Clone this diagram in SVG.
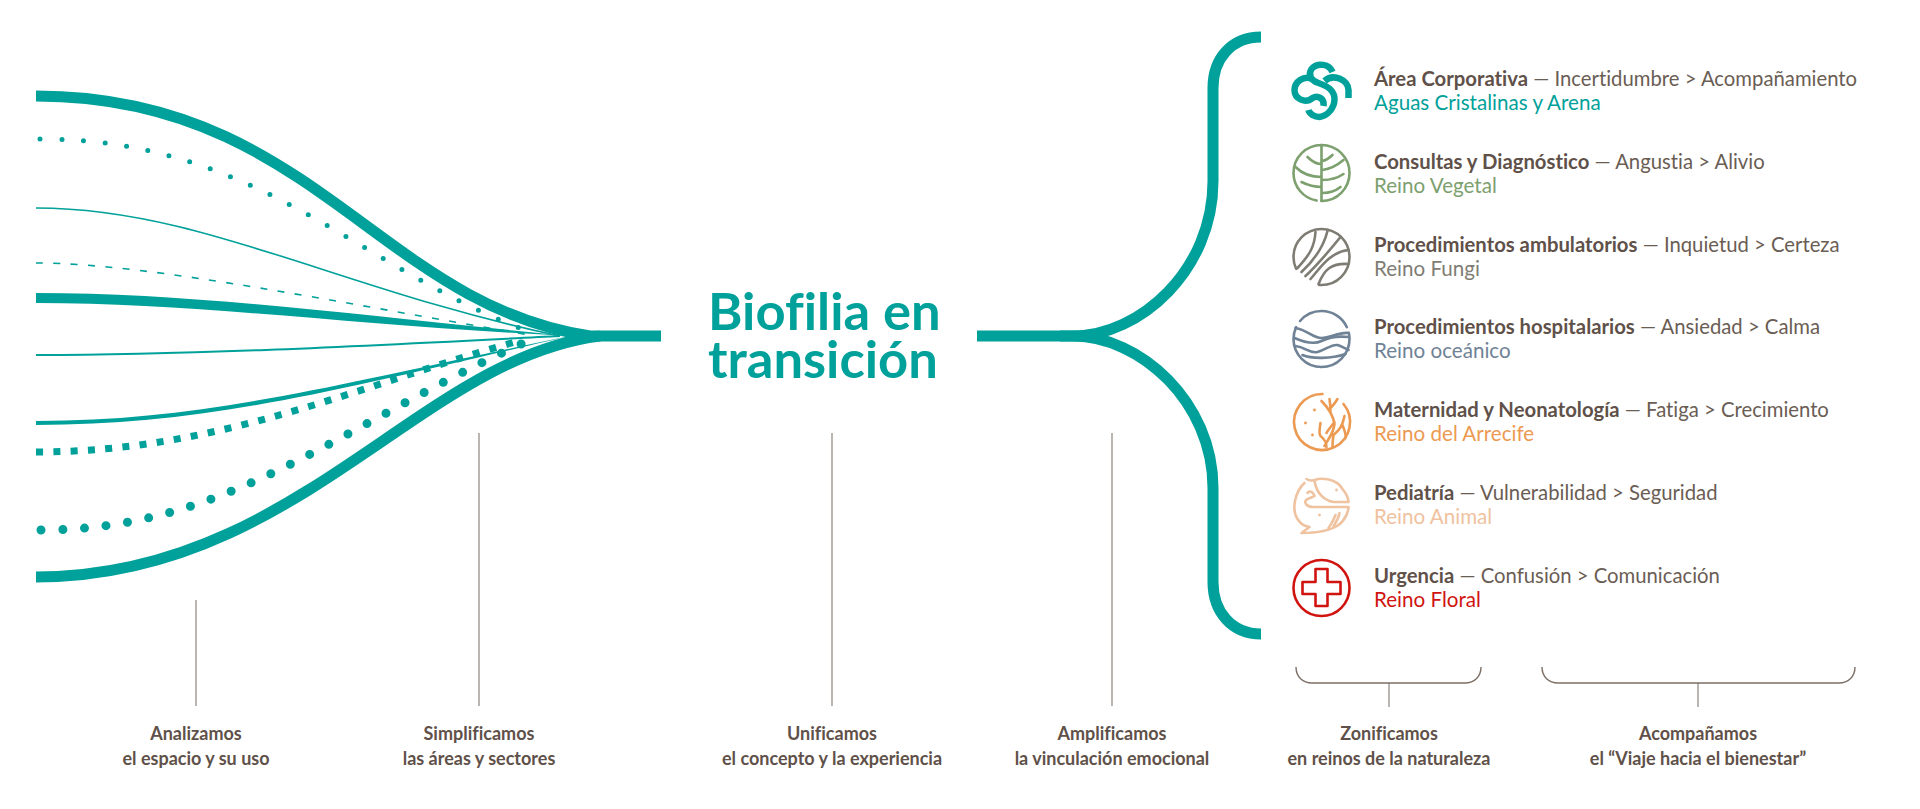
<svg xmlns="http://www.w3.org/2000/svg" width="1920" height="809" viewBox="0 0 1920 809">
<style>
text{font-family:"Lato","Liberation Sans",sans-serif;font-variant-ligatures:none}
.c{fill:none;stroke:#00a19a;stroke-linecap:butt}
.o{stroke-linecap:round}
.f{fill:#00a19a;stroke:none}
.r{fill:none;stroke:#8f857e;stroke-width:1.2}
.b{fill:none;stroke:#7c6f67;stroke-width:1.4}
.t{font-size:52.5px;font-weight:700;fill:#00a19a}
.h{font-size:20.3px;fill:#6a5d54}
.h .s{font-weight:700;fill:#5f5149}
.k{font-size:20.6px}
.l{font-size:18px;font-weight:700;fill:#5f5149;text-anchor:middle}
.i{fill:none;stroke-width:2.6;stroke-linecap:round;stroke-linejoin:round}
.d{stroke:none}
</style>
<rect width="1920" height="809" fill="#fff"/>
<g id="connectors">
<path class="c" stroke-width="11" d="M36 96C310 96 380 305 590 336L661 336"/>
<path class="c o" stroke-width="5" stroke-dasharray="0 21.7" d="M40 139C260 139 360 270 530 332"/>
<path class="c" stroke-width="1.6" d="M36 208C200 208 340 290 560 336"/>
<path class="c" stroke-width="1.6" stroke-dasharray="7 10.4" d="M36 263C150 263 350 305 530 335"/>
<path class="f" d="M36 293C200 293 360 316 570 336C360 326 200 303 36 303Z"/>
<path class="c" stroke-width="2" d="M36 355C200 355 380 345 560 336"/>
<path class="f" d="M36 421C210 421 340 383 570 336C345 388 210 425 36 425Z"/>
<path class="c" stroke-width="7" stroke-dasharray="7 10.3" d="M36 452C220 452 360 385 515 342"/>
<path class="c o" stroke-width="9" stroke-dasharray="0 21.7" d="M41 530C230 530 340 425 530 340"/>
<path class="c" stroke-width="11" d="M36 577C295 577 420 358 600 336"/>
<path class="c" stroke-width="11" d="M1261 37C1232 37 1213 58 1213 88L1213 181C1213 270 1140 336 1073 336L977 336"/>
<path class="c" stroke-width="11" d="M1261 634C1232 634 1213 612 1213 582L1213 488C1213 402 1140 336 1073 336L1060 336"/>
<path class="r" d="M196 600V706M479 433V706M832 433V706M1112 433V706M1389 683V707M1698 683V707"/>
<path class="b" d="M1296 667C1296 677 1303 683 1312 683H1465C1474 683 1481 677 1481 667"/>
<path class="b" d="M1542 667C1542 677 1549 683 1558 683H1839C1848 683 1855 677 1855 667"/>
</g>
<g id="title"><text class="t"><tspan x="708" y="330">Biofilia en</tspan><tspan x="708" y="378">transición</tspan></text></g>
<g id="n1"><g transform="translate(1321.5 90)" class="i" stroke="#00a19a" style="stroke-width:6.5;stroke-linecap:butt"><path d="M11 -18C8 -26 -4 -28 -10 -21C-14 -15 -10 -9 -3 -7C6 -4 13 0 13 9C13 18 6 26 -2 27C-7 27 -12 24 -13 20"/><path d="M-9 -11C-18 -15 -27 -8 -27 0C-27 9 -16 14 -9 8C-4 5 3 8 2 16"/><path d="M3 -9C12 -17 27 -10 27 0V8"/></g><text class="h" x="1374" y="86"><tspan class="s">Área Corporativa</tspan> — Incertidumbre &gt; Acompañamiento</text><text class="k" x="1374" y="110" fill="#00a19a">Aguas Cristalinas y Arena</text></g>
<g id="n2"><g transform="translate(1321.5 173)" class="i" stroke="#7da06f"><circle r="28" pathLength="360" stroke-dasharray="90 10 260"/><path d="M0 -28V28M-14 -16C-10 -12 -5 -9 0 -9M1 -12C5 -13 8 -15 11 -18M-26 -6C-19 1 -10 4 0 4M1 -3C9 -4 16 -8 22 -13M-20 9C-14 12 -7 14 0 14M1 7C9 7 16 5 22 1M1 20C8 20 14 18 19 14"/></g><text class="h" x="1374" y="169"><tspan class="s">Consultas y Diagnóstico</tspan> — Angustia &gt; Alivio</text><text class="k" x="1374" y="193" fill="#7da06f">Reino Vegetal</text></g>
<g id="n3"><g transform="translate(1321.5 257)" class="i" stroke="#7f7c74"><circle r="28" pathLength="360" stroke-dasharray="95 60 205"/><path d="M-24 11C-12 -2 -7 -10 -6 -25M-20 15C-6 2 2 -10 6 -26M-16 19C-4 8 6 -4 19 -20M-11 22C-2 12 8 -5 27 -7M-3 27C3 12 10 6 27 7"/></g><text class="h" x="1374" y="252"><tspan class="s">Procedimientos ambulatorios</tspan> — Inquietud &gt; Certeza</text><text class="k" x="1374" y="276" fill="#7f7c74">Reino Fungi</text></g>
<g id="n4"><g transform="translate(1321.5 339)" class="i" stroke="#6f8296"><circle r="28" pathLength="360" stroke-dasharray="205 15 115 12 13"/><path d="M-26 -11C-14 -9 -9 -1 0 -1C9 -1 17 -7 27 -6"/><path d="M-27 -1C-18 3 -8 6 0 2C8 -2 18 -3 27 -2"/><path d="M-26 7C-16 8 -12 15 -4 13C4 11 10 5 16 6C20 7 24 10 27 11"/><path d="M-19 16C-10 20 10 20 24 15"/></g><text class="h" x="1374" y="334"><tspan class="s">Procedimientos hospitalarios</tspan> — Ansiedad &gt; Calma</text><text class="k" x="1374" y="358" fill="#6f8296">Reino oceánico</text></g>
<g id="n5"><g transform="translate(1321.5 422)" class="i" stroke="#ec9a52"><path d="M1 -28A28 28 0 1 0 22 -18"/><path d="M0 -21C8 -13 12 -4 13 2C12 12 6 18 3 24M8 -23C9 -16 9 -13 9 -11M16 -23C13 -18 11 -16 10 -15M-1 1C-2 8 -3 12 -1 14C3 17 5 22 5 25M13 0C10 4 7 7 5 11M23 -6C21 4 18 8 12 13C11 18 11 22 11 25M21 3C23 8 25 13 24 16"/><circle class="d" cx="-7" cy="-12" r="1.4" fill="#ec9a52"/><circle class="d" cx="-16" cy="1" r="1.4" fill="#ec9a52"/><circle class="d" cx="-9" cy="13" r="1.4" fill="#ec9a52"/></g><text class="h" x="1374" y="417"><tspan class="s">Maternidad y Neonatología</tspan> — Fatiga &gt; Crecimiento</text><text class="k" x="1374" y="441" fill="#ec9a52">Reino del Arrecife</text></g>
<g id="n6"><g transform="translate(1321.5 505)" class="i" stroke="#efc2a0"><path d="M-7 -25C-2 -27 14 -28 21 -16C25 -11 27 -6 27 -3H12C0 -5 -6 -15 -7 -25C-10 -24 -12 -24 -15 -26"/><path d="M-17 -22C-27 -13 -30 5 -24 14C-20 20 -17 21 -12 22L-20 28C-3 28 8 26 17 20C25 14 27 5 27 2H-8C-14 2 -17 -1 -16 -4C-15 -7 -10 -7 -7 -9C-8 -13 -12 -15 -14 -12"/><path d="M14 10C12 16 9 20 7 23M18 8C17 14 14 18 12 21"/><circle class="d" cx="15" cy="-15" r="1.4" fill="#efc2a0"/><circle class="d" cx="-2" cy="10" r="1.4" fill="#efc2a0"/></g><text class="h" x="1374" y="500"><tspan class="s">Pediatría</tspan> — Vulnerabilidad &gt; Seguridad</text><text class="k" x="1374" y="524" fill="#efc2a0">Reino Animal</text></g>
<g id="n7"><g transform="translate(1321.5 588)" class="i" stroke="#d0140f"><circle r="28"/><path d="M-6 -19H6V-6H19V6H6V18H-6V6H-19V-6H-6Z"/></g><text class="h" x="1374" y="583"><tspan class="s">Urgencia</tspan> — Confusión &gt; Comunicación</text><text class="k" x="1374" y="607" fill="#d0140f">Reino Floral</text></g>
<g id="labels">
<text class="l" x="196" y="740">Analizamos</text><text class="l" x="196" y="765">el espacio y su uso</text>
<text class="l" x="479" y="740">Simplificamos</text><text class="l" x="479" y="765">las áreas y sectores</text>
<text class="l" x="832" y="740">Unificamos</text><text class="l" x="832" y="765">el concepto y la experiencia</text>
<text class="l" x="1112" y="740">Amplificamos</text><text class="l" x="1112" y="765">la vinculación emocional</text>
<text class="l" x="1389" y="740">Zonificamos</text><text class="l" x="1389" y="765">en reinos de la naturaleza</text>
<text class="l" x="1698" y="740">Acompañamos</text><text class="l" x="1698" y="765">el “Viaje hacia el bienestar”</text>
</g>
</svg>
